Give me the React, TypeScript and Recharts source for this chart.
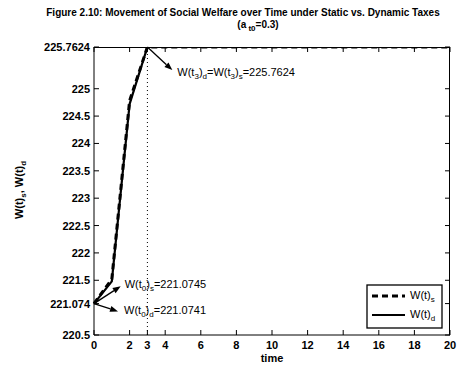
import * as React from "react";
import { LineChart, Line, XAxis, YAxis, ReferenceLine } from "recharts";

// values
const times = [0, 1, 2, 3, 4, 5, 6, 7, 8, 9, 10, 11, 12, 13, 14, 15, 16, 17, 18, 19, 20];
const welfareStatic = [221.0745, 221.52, 224.78, 225.7624, 225.7624, 225.7624, 225.7624, 225.7624, 225.7624, 225.7624, 225.7624, 225.7624, 225.7624, 225.7624, 225.7624, 225.7624, 225.7624, 225.7624, 225.7624, 225.7624, 225.7624];
const welfareDynamic = [221.0741, 221.48, 224.72, 225.7624, 225.7624, 225.7624, 225.7624, 225.7624, 225.7624, 225.7624, 225.7624, 225.7624, 225.7624, 225.7624, 225.7624, 225.7624, 225.7624, 225.7624, 225.7624, 225.7624, 225.7624];
const xTicks = [0, 2, 3, 4, 6, 8, 10, 12, 14, 16, 18, 20];
const yTicks = [220.5, 221.074, 221.5, 222, 222.5, 223, 223.5, 224, 224.5, 225, 225.7624];
const xDomain = [0, 20];
const yDomain = [220.5, 225.7624];

const data = times.map((t, i) => ({ t, ws: welfareStatic[i], wd: welfareDynamic[i] }));

const FONT = "'Liberation Sans', Arial, Helvetica, sans-serif";

// plot box (matlab-style frame)
const W = 468;
const H = 367;
const M = { top: 47, right: 18, bottom: 32, left: 94 };
const PW = W - M.left - M.right;
const PH = H - M.top - M.bottom;

function BottomTick({ x, y, payload }: any) {
  return (
    <g>
      <line x1={x} x2={x} y1={y} y2={y - 5} stroke="#000" />
      <line x1={x} x2={x} y1={y - PH} y2={y - PH + 5} stroke="#000" />
      <text x={x} y={y + 14} textAnchor="middle" fontSize={11} fontWeight="bold" fill="#000" fontFamily={FONT}>
        {payload.value}
      </text>
    </g>
  );
}

function LeftTick({ x, y, payload }: any) {
  return (
    <g>
      <line x1={x} x2={x + 5} y1={y} y2={y} stroke="#000" />
      <line x1={x + PW} x2={x + PW - 5} y1={y} y2={y} stroke="#000" />
      <text x={x - 4} y={y + 4} textAnchor="end" fontSize={11} fontWeight="bold" fill="#000" fontFamily={FONT}>
        {payload.value}
      </text>
    </g>
  );
}

// arrow + label drawn from the reference segment's pixel ends
function arrowShape(label: React.ReactNode, dx: number, dy: number) {
  return (p: any) => {
    const { x1, y1, x2, y2 } = p;
    const a = Math.atan2(y2 - y1, x2 - x1);
    const L = 8;
    const w = 3;
    const bx = x2 - L * Math.cos(a);
    const by = y2 - L * Math.sin(a);
    const pts = `${x2},${y2} ${bx - w * Math.sin(a)},${by + w * Math.cos(a)} ${bx + w * Math.sin(a)},${by - w * Math.cos(a)}`;
    return (
      <g>
        <line x1={x1} y1={y1} x2={bx} y2={by} stroke="#000" strokeWidth={1.3} />
        <polygon points={pts} fill="#000" />
        <text x={x2 + dx} y={y2 + dy} fontSize={11} fill="#000" fontFamily={FONT}>
          {label}
        </text>
      </g>
    );
  };
}

const sub = (s: string) => (
  <tspan fontSize={8} dy={3}>{s}</tspan>
);
const up = (s: string) => <tspan dy={-3}>{s}</tspan>;

export default function App() {
  return (
    <div style={{ position: "absolute", left: 0, top: 0, width: W, height: H, background: "#fff" }}>
      <LineChart width={W} height={H} data={data} margin={{ top: M.top, right: M.right, bottom: 0, left: 0 }}>
        <XAxis
          dataKey="t"
          type="number"
          domain={xDomain}
          ticks={xTicks}
          interval={0}
          tickSize={0}
          tickMargin={0}
          tick={<BottomTick />}
          height={M.bottom}
          stroke="#000"
        />
        <YAxis
          type="number"
          domain={yDomain}
          ticks={yTicks}
          interval={0}
          tickSize={0}
          tickMargin={0}
          tick={<LeftTick />}
          width={M.left}
          stroke="#000"
          allowDataOverflow
        />
        <ReferenceLine x={3} stroke="#000" strokeDasharray="1 3" strokeWidth={1} />
        <Line dataKey="wd" stroke="#000" strokeWidth={2.2} dot={false} isAnimationActive={false} />
        <Line dataKey="ws" stroke="#000" strokeWidth={3} strokeDasharray="6 4" dot={false} isAnimationActive={false} />
        <ReferenceLine
          segment={[{ x: 3, y: 225.7624 }, { x: 4.4, y: 225.34 }]}
          shape={arrowShape(
            <>W(t{sub("3")}{up(")")}{sub("d")}{up("=W(t")}{sub("3")}{up(")")}{sub("s")}{up("=225.7624")}</>,
            5,
            6
          )}
        />
        <ReferenceLine
          segment={[{ x: 0, y: 221.074 }, { x: 1.5, y: 221.39 }]}
          shape={arrowShape(
            <>W(t{sub("0")}{up(")")}{sub("s")}{up("=221.0745")}</>,
            4,
            2
          )}
        />
        <ReferenceLine
          segment={[{ x: 0, y: 221.074 }, { x: 1.35, y: 220.93 }]}
          shape={arrowShape(
            <>W(t{sub("0")}{up(")")}{sub("d")}{up("=221.0741")}</>,
            6,
            3
          )}
        />
      </LineChart>
      {/* plot frame as a css box so the top and right edges always show */}
      <div
        style={{
          position: "absolute",
          left: M.left,
          top: M.top,
          width: PW,
          height: PH,
          borderTop: "1px solid #000",
          borderRight: "1px solid #000",
          boxSizing: "border-box",
          pointerEvents: "none",
        }}
      />
      <svg width={W} height={H} style={{ position: "absolute", left: 0, top: 0, pointerEvents: "none" }} fontFamily={FONT}>
        <text x={243} y={16} textAnchor="middle" fontSize={10} fontWeight="bold">
          Figure 2.10: Movement of Social Welfare over Time under Static vs. Dynamic Taxes
        </text>
        <text x={258} y={28} textAnchor="middle" fontSize={10} fontWeight="bold">
          (a<tspan fontSize={8} dy={3}> t0</tspan><tspan dy={-3}>=0.3)</tspan>
        </text>
        <text x={272} y={362} textAnchor="middle" fontSize={11} fontWeight="bold">time</text>
        <text transform="translate(23,190) rotate(-90)" textAnchor="middle" fontSize={11} fontWeight="bold">
          W(t)<tspan fontSize={8} dy={3}>s</tspan><tspan dy={-3}>, W(t)</tspan><tspan fontSize={8} dy={3}>d</tspan>
        </text>
        <g>
          <rect x={367} y={285} width={75} height={43} fill="#fff" stroke="#000" strokeWidth={1.3} />
          <line x1={372} x2={405} y1={296} y2={296} stroke="#000" strokeWidth={3} strokeDasharray="6 4" />
          <text x={410} y={299} fontSize={11}>
            W(t)<tspan fontSize={8} dy={3}>s</tspan>
          </text>
          <line x1={372} x2={405} y1={315} y2={315} stroke="#000" strokeWidth={2.2} />
          <text x={410} y={318} fontSize={11}>
            W(t)<tspan fontSize={8} dy={3}>d</tspan>
          </text>
        </g>
      </svg>
    </div>
  );
}
